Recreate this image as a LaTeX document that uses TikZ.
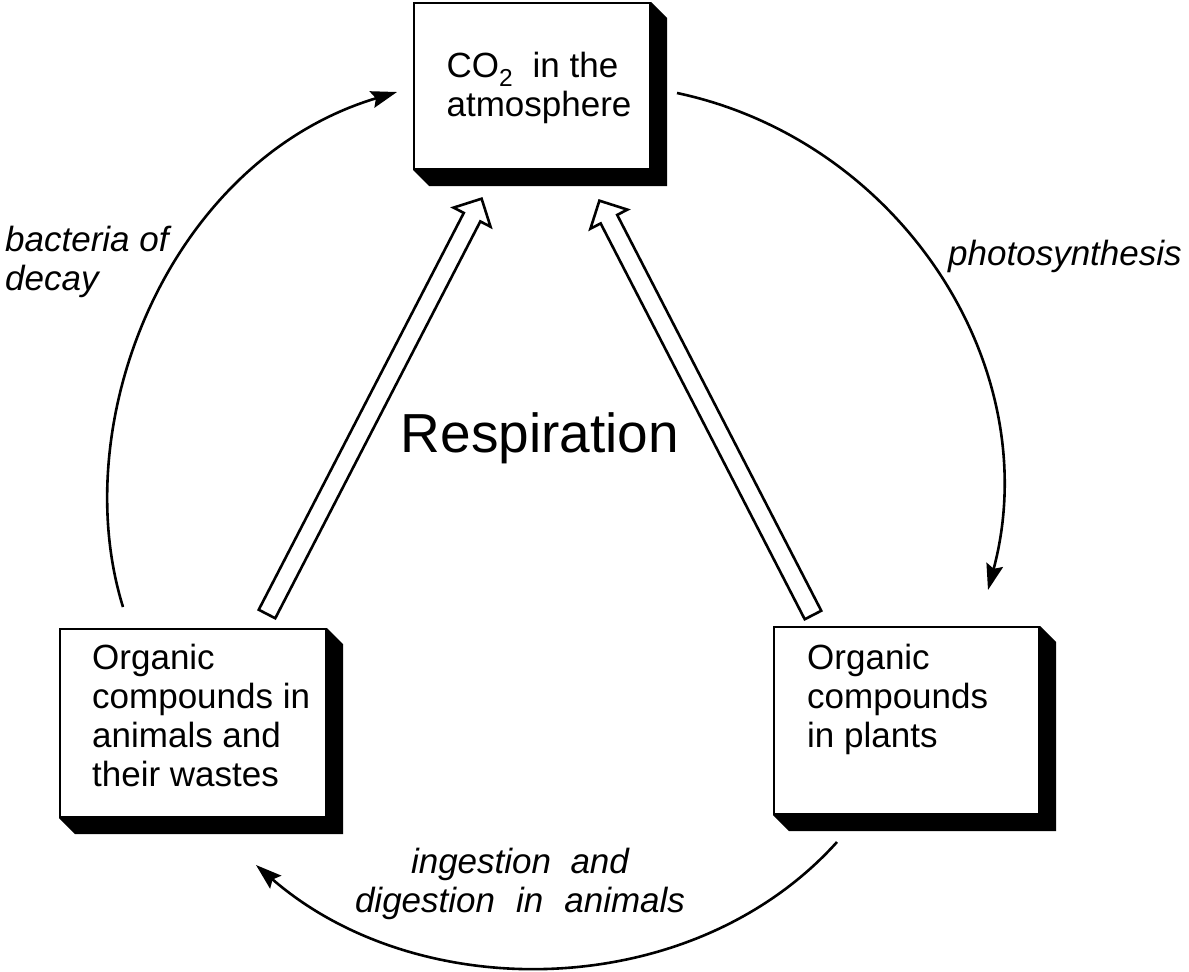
\documentclass[tikz,border=0pt]{standalone}
\usepackage{fontspec}
\setmainfont{Liberation Sans}
\usetikzlibrary{arrows.meta,positioning,calc,shapes.arrows,backgrounds}
\tikzset{
  stage/.style={rectangle,draw,fill=white,line width=2pt,inner sep=0pt,
    font=\fontsize{35}{39}\selectfont,align=left},
  stagetext/.style={inner sep=0pt,align=left,font=\fontsize{35}{39}\selectfont},
  process/.style={inner sep=0pt,align=left,font=\fontsize{35}{39}\selectfont\itshape},
  cyclearrow/.style={-{Stealth[length=26pt,width=17pt,inset=4pt]},line width=2.6pt},
  resparrow/.style={single arrow,draw,fill=white,line width=2.6pt,inner sep=0pt,
    inner ysep=8pt,outer sep=0pt,single arrow head extend=11.5pt,
    single arrow tip angle=90,sloped,allow upside down,pos=0,anchor=tail},
  boxshadow/.style={fill=black}
}

\begin{document}
\begin{tikzpicture}[x=1pt,y=1pt]
  \useasboundingbox (0,0) rectangle (1189,-972);
  \node[stage,minimum width=236,minimum height=166] (co2) at (532,-86) {};
  \node[stagetext] (co2text) at (539,-88) {CO\textsubscript{2}\ \ in the\\atmosphere};
  \node[stage,minimum width=266,minimum height=188] (anim) at (193,-723) {};
  \node[stage,minimum width=265,minimum height=187] (plant) at (906.5,-720.5) {};
  \node[stagetext,below right=16pt and 33pt of anim.north west] (animtext)
    {Organic\\compounds in\\animals and\\their wastes};
  \node[stagetext,below right=18pt and 34pt of plant.north west] (planttext)
    {Organic\\compounds\\in plants};
  \begin{scope}[on background layer]
    \foreach \b in {co2,anim,plant}
      \fill[boxshadow] (\b.north east) -- ++(16,-16) -- ([shift={(16,-16)}]\b.south east)
        -- ([shift={(16,-16)}]\b.south west) -- (\b.south west) -- cycle;
  \end{scope}
  \node[font=\fontsize{55}{60}\selectfont,anchor=base] (resp) at (540,-452) {Respiration};
  \node[process,anchor=north west] (decay) at (5,-226) {bacteria of\\decay};
  \node[process,anchor=north west] (photo) at (948,-240) {photosynthesis};
  \node[process,align=center,anchor=north] (ingest) at (520,-848)
    {ingestion\ \ and\\digestion\hspace{0.6em}in\hspace{0.6em}animals};
  \coordinate (decay0) at (123,-607);
  \coordinate (decay1) at (397,-92);
  \coordinate (photo0) at (677,-93);
  \coordinate (photo1) at (988,-590);
  \coordinate (ingest0) at (837,-842);
  \coordinate (ingest1) at (256,-865);
  \coordinate (resp0) at (267,-614);
  \coordinate (resp1) at (483,-196);
  \coordinate (resp2) at (813,-615);
  \coordinate (resp3) at (598,-198);
  \draw[cyclearrow] (decay0) .. controls (65,-420) and (170,-160) .. (decay1);
  \draw[cyclearrow] (photo0) to[out=-12,in=75] (photo1);
  \draw[cyclearrow] (ingest0) to[out=228,in=-41,looseness=0.95] (ingest1);
  \path let \p1=($(resp1)-(resp0)$), \n1={veclen(\x1,\y1)} in
    (resp0) -- node[resparrow,minimum height=\n1-3] {} (resp1);
  \path let \p1=($(resp3)-(resp2)$), \n1={veclen(\x1,\y1)} in
    (resp2) -- node[resparrow,minimum height=\n1-3] {} (resp3);
\end{tikzpicture}
\end{document}
